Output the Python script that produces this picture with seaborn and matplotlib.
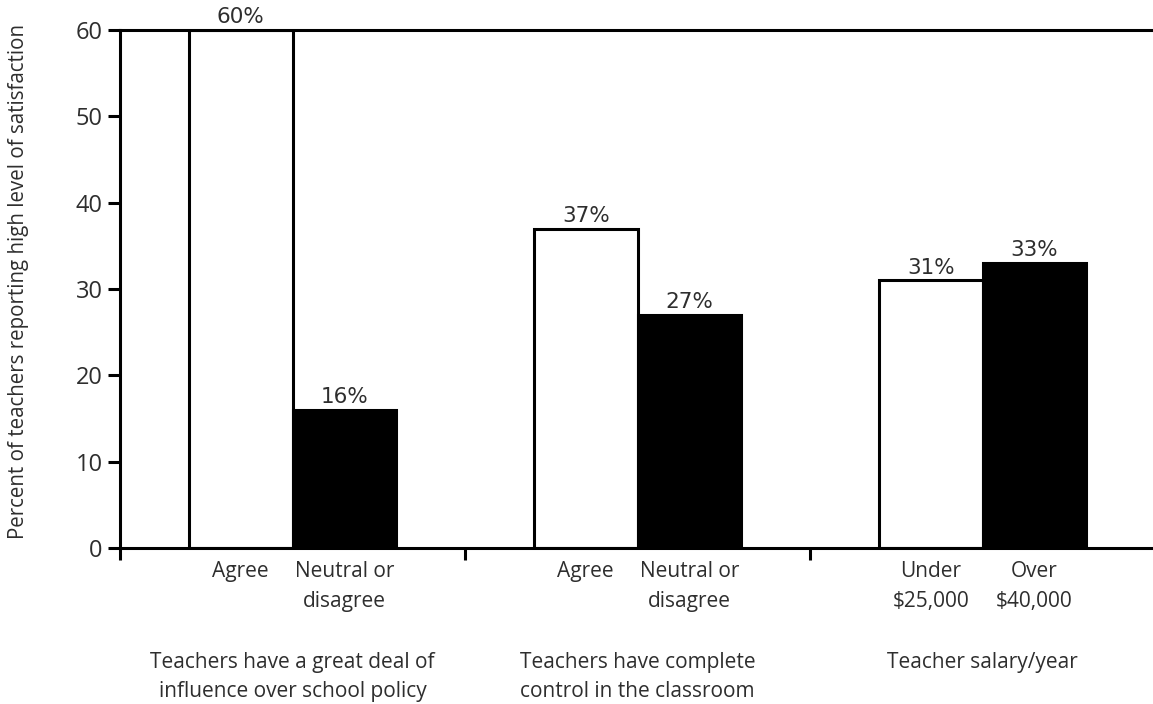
import matplotlib
matplotlib.use("Agg")
import matplotlib.pyplot as plt
import matplotlib.transforms as mtransforms
import pandas as pd
import seaborn as sns

# Survey groups and the two responses compared within each
groups = [
    "Teachers have a great deal of\ninfluence over school policy",
    "Teachers have complete\ncontrol in the classroom",
    "Teacher salary/year",
]
responses = [
    ["Agree", "Neutral or\ndisagree"],
    ["Agree", "Neutral or\ndisagree"],
    ["Under\n$25,000", "Over\n$40,000"],
]
# Percent of teachers reporting a high level of satisfaction
first_values = [60, 37, 31]
second_values = [16, 27, 33]
y_ticks = [0, 10, 20, 30, 40, 50, 60]
y_label = "Percent of teachers reporting high level of satisfaction"

df = pd.DataFrame({
    "group": groups * 2,
    "slot": ["first"] * 3 + ["second"] * 3,
    "value": first_values + second_values,
})

sns.set_theme(style="white")
plt.rcParams["font.family"] = ["Open Sans", "DejaVu Sans"]
text_color = "#2e2e2e"
line_w = 2.2

fig = plt.figure(figsize=(11.53, 7.04), dpi=100)
ax = fig.add_axes([120 / 1153, 156 / 704, 1035 / 1153, 518 / 704])

sns.barplot(
    data=df, x="group", y="value", hue="slot", order=groups,
    hue_order=["first", "second"],
    palette={"first": "white", "second": "black"},
    width=0.6, dodge=True, edgecolor="black", linewidth=line_w,
    legend=False, ax=ax, saturation=1,
)

ax.set_xlim(-0.5, 2.5)
ax.set_ylim(0, 60)
ax.set_yticks(y_ticks)
ax.set_yticklabels([str(t) for t in y_ticks], fontsize=17, color=text_color)
ax.set_xticks([-0.5, 0.5, 1.5])
ax.set_xticklabels([])
ax.set_xlabel("")
ax.set_ylabel(y_label, fontsize=14.8, color=text_color)
ax.yaxis.set_label_coords(-0.088, 0.515)

for side in ["left", "top", "bottom"]:
    ax.spines[side].set_visible(True)
    ax.spines[side].set_color("black")
    ax.spines[side].set_linewidth(line_w)
ax.spines["right"].set_visible(False)
ax.tick_params(axis="y", direction="out", length=8.5, width=line_w,
               color="black", left=True, pad=4)
ax.tick_params(axis="x", direction="out", length=8.5, width=line_w,
               color="black", bottom=True)

# Value labels on top of each bar
for container in ax.containers:
    ax.bar_label(container, labels=[f"{v:g}%" for v in container.datavalues],
                 padding=2, fontsize=15.5, color=text_color,
                 family="DejaVu Sans")

# Response labels under each bar, group names beneath them
blend = mtransforms.blended_transform_factory(ax.transData, ax.transAxes)
for container, slot in zip(ax.containers, [0, 1]):
    for gi, bar in enumerate(container.patches):
        cx = bar.get_x() + bar.get_width() / 2
        ax.text(cx, -0.025, responses[gi][slot], transform=blend,
                ha="center", va="top", fontsize=15, color=text_color,
                linespacing=1.55)
for gi, name in enumerate(groups):
    ax.text(gi, -0.2, name, transform=blend, ha="center", va="top",
            fontsize=15, color=text_color, linespacing=1.55)

fig.savefig("out.png", dpi=100)
